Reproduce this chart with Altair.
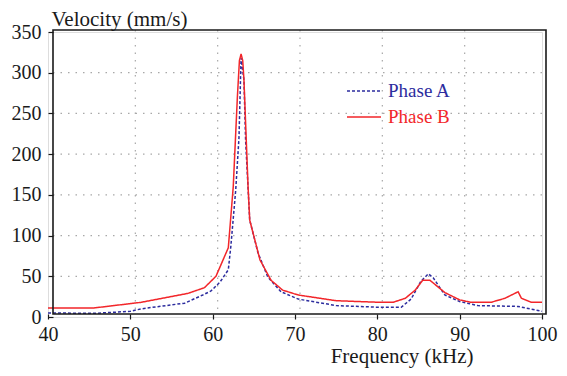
import altair as alt
import pandas as pd

# Phase A (dashed, blue)
freq_a = [40, 45.7, 50, 51.3, 56.6, 58.8, 59.8, 60.9, 61.9, 62.2, 62.8, 63.2, 63.45,
          63.8, 64.0, 64.5, 65.5, 66.7, 68.3, 70.4, 75, 80.1, 82.9, 84.1, 85.3, 86.2,
          86.8, 88.2, 90, 92.2, 97.1, 100]
vel_a = [5, 4.5, 7, 10, 17, 27, 32, 43, 58, 86, 156, 221, 318,
         291, 217, 119, 79, 49, 31, 22, 14, 12, 12, 22, 44, 53,
         48, 27, 19, 14, 13, 7]

# Phase B (solid, red)
freq_b = [40, 45.5, 51.3, 57, 59, 60.4, 61.9, 62.5, 63.0, 63.25, 63.45, 63.65, 63.8,
          64.3, 64.5, 65.75, 67.1, 68.5, 70.4, 75, 80.4, 81.9, 83.4, 84.6, 85.5, 86.4,
          88.2, 90, 91.4, 93.8, 95.5, 97.1, 97.5, 98.7, 100]
vel_b = [11, 11, 18, 29, 36, 50, 85, 160, 270, 315, 323, 315, 291,
         160, 119, 70, 45, 33, 27, 20, 18, 18, 23, 33, 45, 45,
         30, 21, 18, 18, 23, 31, 23, 18, 18]

series_names = ["Phase A", "Phase B"]
series_colors = ["#2c2c9e", "#f2262a"]
series_dash = [[3, 2], [1, 0]]

x_ticks = [40, 50, 60, 70, 80, 90, 100]
y_ticks = [0, 50, 100, 150, 200, 250, 300, 350]
grid_x = [50, 60, 70, 80, 90]
grid_y = [50, 100, 150, 200, 250, 300]

df = pd.concat([
    pd.DataFrame({"freq": freq_a, "vel": vel_a, "series": series_names[0]}),
    pd.DataFrame({"freq": freq_b, "vel": vel_b, "series": series_names[1]}),
])

W, H = 494, 285
FONT = "Liberation Serif, Times New Roman, serif"
xs = alt.Scale(domain=[40, 100], nice=False, zero=False)
ys = alt.Scale(domain=[0, 350], nice=False)

x_axis = alt.Axis(
    values=x_ticks, title="Frequency (kHz)", grid=False, domain=False, offset=-3,
    tickSize=5, tickColor="#1a1a1a", tickWidth=1.2, labelFont=FONT, labelFontSize=20,
    labelColor="#1a1a1a", labelPadding=5, labelFlush=False, labelOverlap=False,
    titleFont=FONT, titleFontSize=21,
    titleFontWeight="normal", titleColor="#1a1a1a", titleAlign="right",
    titleBaseline="alphabetic", titleX=425, titleY=48)
y_axis = alt.Axis(
    values=y_ticks, title="Velocity (mm/s)", grid=False, domain=False, offset=-5,
    tickSize=5, tickColor="#1a1a1a", tickWidth=1.2, labelFont=FONT, labelFontSize=20,
    labelColor="#1a1a1a", labelPadding=7, labelFlush=False, labelOverlap=False,
    titleFont=FONT, titleFontSize=21,
    titleFontWeight="normal", titleColor="#1a1a1a", titleAngle=0, titleAlign="left",
    titleBaseline="alphabetic", titleX=-2, titleY=-7)

grid_v = alt.Chart(pd.DataFrame({"freq": grid_x})).mark_rule(
    color="#a8a8a8", strokeWidth=1.2, strokeDash=[1.5, 6], xOffset=5
).encode(x=alt.X("freq:Q", scale=xs, axis=x_axis), y=alt.value(-2), y2=alt.value(282))

grid_h = alt.Chart(pd.DataFrame({"vel": grid_y})).mark_rule(
    color="#a8a8a8", strokeWidth=1.2, strokeDash=[1.5, 6]
).encode(y=alt.Y("vel:Q", scale=ys, axis=y_axis), x=alt.value(5), x2=alt.value(498))

frame = alt.Chart(pd.DataFrame({"a": [0]})).mark_rect(
    fill="transparent", stroke="#1a1a1a", strokeWidth=1.6
).encode(x=alt.value(5), x2=alt.value(498), y=alt.value(-2), y2=alt.value(282))

lines = alt.Chart(df).mark_line(strokeWidth=1.5, clip=False).encode(
    x=alt.X("freq:Q", scale=xs, axis=x_axis),
    y=alt.Y("vel:Q", scale=ys, axis=y_axis),
    color=alt.Color("series:N", scale=alt.Scale(domain=series_names, range=series_colors), legend=None),
    strokeDash=alt.StrokeDash("series:N", scale=alt.Scale(domain=series_names, range=series_dash), legend=None),
)

legend_layers = []
for i, (name, col, dash) in enumerate(zip(series_names, series_colors, series_dash)):
    ly = 59 + 26 * i
    d = pd.DataFrame({"series": [name]})
    legend_layers.append(alt.Chart(d).mark_rule(color=col, strokeWidth=1.6, strokeDash=dash).encode(
        x=alt.value(299), x2=alt.value(333), y=alt.value(ly)))
    legend_layers.append(alt.Chart(d).mark_text(
        color=col, font=FONT, fontSize=19, align="left", baseline="middle").encode(
        x=alt.value(340), y=alt.value(ly), text="series:N"))

chart = alt.layer(grid_v, grid_h, lines, frame, *legend_layers).properties(
    width=W, height=H,
    autosize=alt.AutoSizeParams(type="none"),
    padding={"left": 40, "top": 24, "right": 17, "bottom": 51},
).configure_view(stroke=None).configure(background="white")

chart.save("out.html", embed_options={"renderer": "svg", "actions": False})
